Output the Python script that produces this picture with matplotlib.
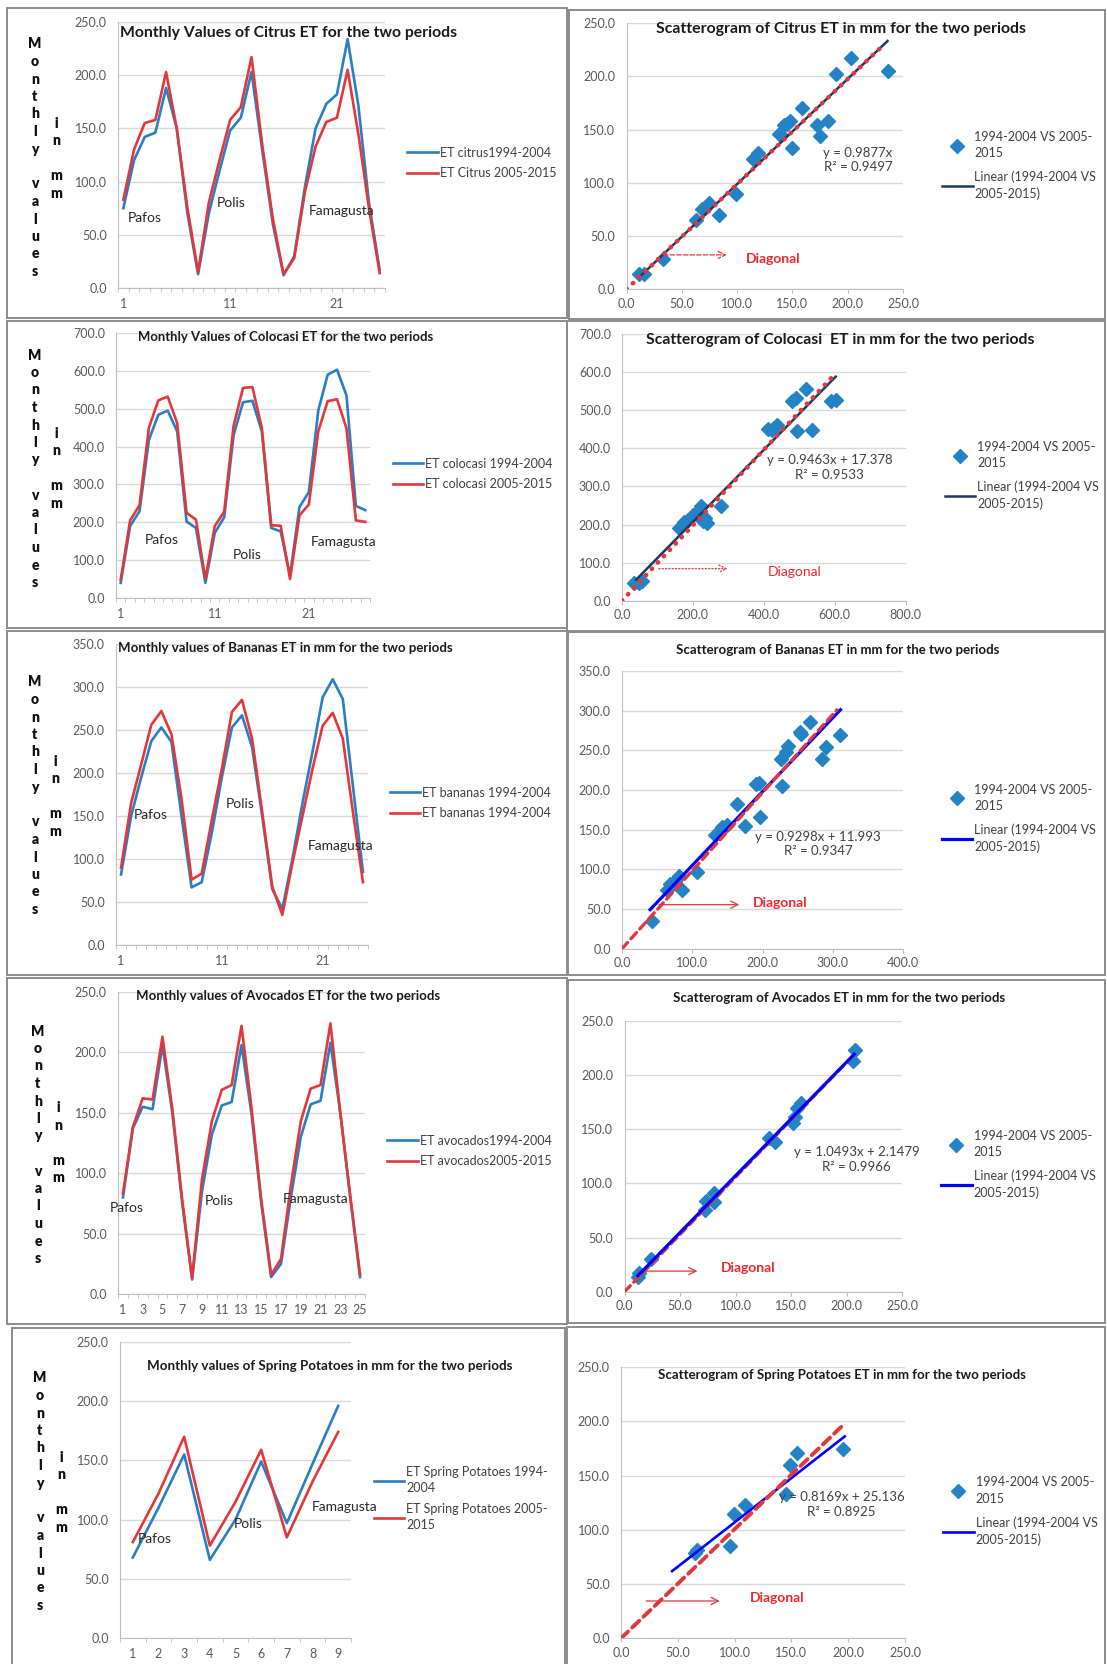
import numpy as np
import matplotlib.pyplot as plt
from matplotlib.patches import Rectangle

W, H = 1107, 1664
plt.rcParams['font.family'] = ['Lato', 'DejaVu Sans']

BLUE = '#2A7EC4'
RED = '#E2383C'
MARK = '#2483C5'
NAVY = '#1F3864'
PURE_BLUE = '#0000FF'
DIAG_RED = '#F0282D'
GRID = '#D9D9D9'
AXIS = '#BFBFBF'
TICK = '#595959'

#%% data
# citrus
citrus_94 = [75, 120, 142, 146, 188, 150, 70, 13, 70, 110, 148, 160, 203, 130, 60, 12,
             30, 95, 150, 173, 182, 234, 172, 80, 17]
citrus_05 = [83, 130, 155, 158, 203, 150, 75, 15, 80, 120, 158, 170, 217, 135, 65, 13,
             28, 90, 133, 156, 160, 205, 145, 75, 14]
citrus_sx = [11.6, 15.6, 32.8, 63, 68, 71, 75, 84, 99, 114, 119, 138, 140, 142, 145, 148,
             150, 159, 172, 175, 182, 189, 203, 236]
citrus_sy = [14.4, 14.4, 28.2, 65, 75, 76, 81, 70, 89, 122, 128, 146, 145, 154, 155, 158,
             133, 170, 154, 144, 158, 202, 217, 205]
citrus_fit = [0.9877, 0.0]
citrus_fit_x = [12, 236]
citrus_diag_x = [0, 233]
citrus_diag_y = [0, 230]

# colocasi
colo_94 = [40, 190, 229, 418, 484, 495, 440, 202, 185, 40, 172, 213, 430, 517, 521, 440, 185, 176,
           60, 240, 280, 495, 590, 603, 535, 243, 232]
colo_05 = [48, 205, 245, 450, 522, 532, 462, 225, 207, 50, 190, 228, 455, 555, 557, 450, 192, 191,
           50, 218, 247, 440, 520, 525, 448, 205, 201]
colo_sx = [34, 49, 56, 161, 176, 185, 200, 210, 222, 229, 234, 239, 278, 413, 422, 429, 436,
           481, 491, 493, 519, 535, 590, 603]
colo_sy = [46, 46, 51, 191, 206, 213, 226, 230, 248, 208, 217, 204, 248, 451, 449, 453, 460,
           525, 532, 446, 556, 449, 523, 528]
colo_fit = [0.9463, 17.378]
colo_fit_x = [40, 603]
colo_diag_x = [0, 592]
colo_diag_y = [0, 586]

# bananas
ban_94 = [82, 150, 195, 237, 253, 236, 150, 67, 73, 130, 195, 253, 267, 230, 150, 65, 42,
          100, 165, 225, 288, 309, 286, 185, 85]
ban_05 = [90, 165, 210, 256, 272, 245, 170, 76, 83, 145, 205, 271, 285, 240, 155, 68, 35,
          95, 150, 205, 255, 270, 240, 155, 73]
ban_sx = [42, 64, 69, 75, 81, 85, 107, 133, 143, 149, 163, 175, 191, 195, 197, 227, 228, 234,
          236, 253, 255, 267, 285, 290, 310]
ban_sy = [35, 74, 81, 85, 91, 74, 97, 143, 154, 156, 183, 155, 208, 209, 166, 239, 205, 248,
          255, 273, 271, 286, 239, 254, 269]
ban_fit = [0.9298, 11.993]
ban_fit_x = [40, 311]
ban_diag_x = [0, 306]
ban_diag_y = [0, 301]

# avocados
avo_94 = [80, 137, 155, 153, 206, 150, 75, 12, 85, 132, 156, 159, 206, 150, 75, 14,
          25, 80, 130, 157, 160, 208, 150, 80, 14]
avo_05 = [83, 138, 162, 161, 213, 153, 78, 13, 95, 143, 169, 173, 222, 155, 78, 16,
          29, 90, 143, 170, 173, 224, 150, 82, 16]
avo_sx = [11.8, 13.4, 23.7, 72.5, 73.5, 81, 81, 130, 135.7, 152, 153.5, 155.7, 159, 205.8, 207.3]
avo_sy = [13.9, 17, 30, 75.4, 83.7, 83, 91, 141.6, 138.5, 155.5, 161.6, 169.3, 174, 213, 223]
avo_fit = [1.0493, 2.1479]
avo_fit_x = [12, 207]
avo_diag_x = [0, 206]
avo_diag_y = [0, 218]

# spring potatoes
pot_94 = [68, 110, 155, 66, 100, 149, 97, 147, 196]
pot_05 = [81, 122, 170, 78, 115, 159, 85, 132, 174]
pot_sx = [65.5, 67, 96, 99.7, 109.5, 145.4, 149, 154.6, 195.7]
pot_sy = [78.2, 81.3, 85.3, 115, 122.7, 132.8, 160, 170.9, 174]
pot_fit = [0.8169, 25.136]
pot_fit_x = [45, 197]
pot_diag_x = [0, 197]
pot_diag_y = [0, 198]

towns = ['Pafos', 'Polis', 'Famagusta']

fig = plt.figure(figsize=(W / 100, H / 100), dpi=100)
renderer = fig.canvas.get_renderer()


def rect(l, t, r, b):
    return [l / W, 1 - b / H, (r - l) / W, (b - t) / H]


def frame(l, t, r, b):
    fig.patches.append(Rectangle((l / W, 1 - b / H), (r - l) / W, (b - t) / H,
                                 transform=fig.transFigure, fill=False, ec='#8C8C8C', lw=1.4))


def title(s, x, y, width):
    t = fig.text(x / W, 1 - y / H, s, ha='left', va='center', fontsize=10,
                 fontweight='bold', color='#1A1A1A')
    w = t.get_window_extent(renderer=renderer).width
    t.set_fontsize(10 * width / w)


def side_letters(x1, y1, x2, y2):
    for k, ch in enumerate('Monthly values'):
        fig.text(x1 / W, 1 - (y1 + k * 17.5) / H, ch, ha='center', va='center',
                 fontsize=10, fontweight='heavy', color='#111111')
    for k, ch in enumerate('in mm'):
        fig.text(x2 / W, 1 - (y2 + k * 17.5) / H, ch, ha='center', va='center',
                 fontsize=10, fontweight='heavy', color='#111111')


def base_axes(box, ymax, ystep):
    ax = fig.add_axes(rect(*box))
    ax.set_ylim(0, ymax)
    yt = np.arange(0, ymax + ystep / 2, ystep)
    ax.set_yticks(yt)
    ax.set_yticklabels(['%.1f' % v for v in yt])
    ax.yaxis.grid(True, color=GRID, lw=1)
    ax.set_axisbelow(True)
    for s in ['top', 'right']:
        ax.spines[s].set_visible(False)
    for s in ['left', 'bottom']:
        ax.spines[s].set_color(AXIS)
    ax.tick_params(axis='y', length=0, pad=8, labelsize=9, labelcolor=TICK)
    ax.tick_params(axis='x', labelsize=9, labelcolor=TICK, color=AXIS)
    return ax


def add_legend(ax, leg, spacing):
    lg = ax.legend(loc='center left', bbox_to_anchor=(leg[0] / W, 1 - leg[1] / H),
                   bbox_transform=fig.transFigure, frameon=False, fontsize=9, numpoints=1,
                   handlelength=2.45, handletextpad=0.15, borderpad=0, borderaxespad=0,
                   labelspacing=spacing, labelcolor='#404040')
    for t in lg.get_texts():
        t.set_linespacing(1.45)
    return lg


def line_panel(fbox, box, y94, y05, labels, ymax, ystep, xt, ttl, leg, town_xy, letters):
    frame(*fbox)
    ax = base_axes(box, ymax, ystep)
    n = len(y94)
    cats = np.arange(1, n + 1)
    ax.plot(cats, y94, color=BLUE, lw=1.9, label=labels[0])
    ax.plot(cats, y05, color=RED, lw=1.9, label=labels[1])
    ax.set_xlim(0.5, n + 0.5)
    ax.set_xticks(xt)
    ax.set_xticks(np.arange(0.5, n + 1), minor=True)
    ax.tick_params(axis='x', which='major', length=0, pad=7)
    ax.tick_params(axis='x', which='minor', length=3, direction='out', color=AXIS)
    for name, (tx, ty) in zip(towns, town_xy):
        ax.text(tx, ty, name, ha='left', va='center', fontsize=10, color='#262626', clip_on=False)
    add_legend(ax, leg, 0.7)
    title(*ttl)
    side_letters(*letters)


def scatter_panel(fbox, box, sx, sy, fit, fit_x, diag_x, diag_y, xmax, xstep, ymax, ystep,
                  ttl, leg, eq_xy, fit_style, diag_style, dlabel, arrow):
    frame(*fbox)
    ax = base_axes(box, ymax, ystep)
    ax.set_xlim(0, xmax)
    xt = np.arange(0, xmax + xstep / 2, xstep)
    ax.set_xticks(xt)
    ax.set_xticklabels(['%.1f' % v for v in xt])
    ax.tick_params(axis='x', length=3, direction='out', pad=3)
    ax.plot(sx, sy, 'D', color=MARK, ms=7, ls='none', label='1994-2004 VS 2005-\n2015', zorder=3)
    fx = np.array(fit_x)
    ax.plot(fx, fit[0] * fx + fit[1], color=fit_style[0], lw=fit_style[1],
            label='Linear (1994-2004 VS\n2005-2015)', zorder=4)
    ax.plot(diag_x, diag_y, color=RED, lw=diag_style[1], ls=diag_style[0],
            dash_capstyle='round', zorder=diag_style[2])
    if fit[1] > 0:
        eq = 'y = %.4fx + %s\nR\u00b2 = %s' % (fit[0], ('%.4f' % fit[1]).rstrip('0'), eq_xy[2])
    else:
        eq = 'y = %.4fx\nR\u00b2 = %s' % (fit[0], eq_xy[2])
    ax.text(eq_xy[0], eq_xy[1], eq, ha='center', va='center', multialignment='center',
            fontsize=9.5, color='#404040', linespacing=1.25)
    ax.annotate('', xy=(arrow[1], arrow[2]), xytext=(arrow[0], arrow[2]),
                arrowprops=dict(arrowstyle='->', color=RED, lw=0.9, ls=arrow[3],
                                mutation_scale=13, shrinkA=0, shrinkB=0))
    ax.text(dlabel[0], dlabel[1], 'Diagonal', ha='left', va='center', fontsize=10,
            fontweight=dlabel[2], color=DIAG_RED)
    add_legend(ax, leg, 0.9)
    title(*ttl)


#%% left column: monthly series
line_panel((7, 8, 567, 318), (118, 22, 385, 288), citrus_94, citrus_05,
           ['ET citrus1994-2004', 'ET Citrus 2005-2015'], 250, 50, [1, 11, 21],
           ('Monthly Values of Citrus ET for the two periods', 120, 33, 336), (407, 163),
           [(1.45, 66), (9.79, 80), (18.36, 72)], (35, 44, 56, 123))
line_panel((7, 321, 567, 628), (116, 333, 370, 598), colo_94, colo_05,
           ['ET colocasi 1994-2004', 'ET colocasi 2005-2015'], 700, 100, [1, 11, 21],
           ('Monthly Values of Colocasi ET for the two periods', 138, 337, 296), (392.6, 474),
           [(3.52, 154), (12.96, 112.7), (21.2, 147)], (35, 355, 56, 433))
line_panel((7, 631, 567, 975), (116, 644, 368, 945), ban_94, ban_05,
           ['ET bananas 1994-2004', 'ET bananas 1994-2004'], 350, 50, [1, 11, 21],
           ('Monthly values of Bananas ET in mm for the two periods', 118, 648, 337), (389.7, 803),
           [(2.23, 150.6), (11.4, 163.8), (19.56, 115)], (35, 682, 55, 761))
line_panel((7, 978, 567, 1324), (118, 992, 365, 1294), avo_94, avo_05,
           ['ET avocados1994-2004', 'ET avocados2005-2015'], 250, 50, list(range(1, 26, 2)),
           ('Monthly values of Avocados ET for the two periods', 136, 996, 304), (387, 1151),
           [(-0.35, 71), (9.24, 77.4), (17.2, 78.7)], (38, 1031, 58, 1108))
line_panel((12, 1328, 565, 1680), (120, 1342, 351, 1638), pot_94, pot_05,
           ['ET Spring Potatoes 1994-\n2004', 'ET Spring Potatoes 2005-\n2015'], 250, 50,
           list(range(1, 10)),
           ('Monthly values of Spring Potatoes in mm for the two periods', 147, 1366, 364),
           (373.7, 1498.5), [(1.21, 83.9), (4.94, 96.6), (7.98, 110.6)], (40, 1378, 61, 1457))

#%% right column: scatterograms
scatter_panel((569, 10, 1105, 319), (626.5, 23, 903, 289.3), citrus_sx, citrus_sy, citrus_fit,
              citrus_fit_x, citrus_diag_x, citrus_diag_y, 250, 50, 250, 50,
              ('Scatterogram of Citrus ET in mm for the two periods', 655.6, 29.3, 371),
              (942, 165.5), (209.4, 121.5, '0.9497'), (NAVY, 1.8), ((0, (0.1, 1.8)), 3.3, 5),
              (107.5, 28.2, 'bold'), (33.4, 90.6, 32.3, '--'))
scatter_panel((567, 321, 1105, 631), (622, 334, 905.5, 600.7), colo_sx, colo_sy, colo_fit,
              colo_fit_x, colo_diag_x, colo_diag_y, 800, 200, 700, 100,
              ('Scatterogram of Colocasi  ET in mm for the two periods', 646, 339.7, 388),
              (944.6, 475.7), (586, 349, '0.9533'), (NAVY, 1.8), ((0, (0.1, 1.8)), 3.3, 5),
              (410, 75, 'normal'), (104, 298, 84, ':'))
scatter_panel((568, 632, 1105, 975), (622, 671, 903, 948.7), ban_sx, ban_sy, ban_fit,
              ban_fit_x, ban_diag_x, ban_diag_y, 400, 100, 350, 50,
              ('Scatterogram of Bananas ET in mm for the two periods', 675.6, 649.7, 325),
              (941.8, 818.4), (279.5, 131.7, '0.9347'), (PURE_BLUE, 2.3), ((0, (2.5, 1.5)), 2.4, 5),
              (187, 57, 'bold'), (52.6, 167, 55.5, '-'))
scatter_panel((568, 980, 1105, 1323), (624.5, 1021, 902, 1291.7), avo_sx, avo_sy, avo_fit,
              avo_fit_x, avo_diag_x, avo_diag_y, 250, 50, 250, 50,
              ('Scatterogram of Avocados ET in mm for the two periods', 673, 998.3, 333),
              (941, 1164.5), (208.9, 121.9, '0.9966'), (PURE_BLUE, 2.3), ((0, (2.5, 1.5)), 2.4, 3.5),
              (86.5, 22, 'bold'), (11.8, 65.7, 19, '-'))
scatter_panel((567, 1327, 1105, 1680), (621, 1367, 905, 1638.3), pot_sx, pot_sy, pot_fit,
              pot_fit_x, pot_diag_x, pot_diag_y, 250, 50, 250, 50,
              ('Scatterogram of Spring Potatoes ET in mm for the two periods', 658.3, 1375, 369),
              (943, 1511), (194.2, 123.2, '0.8925'), (PURE_BLUE, 1.9), ((0, (2.5, 1.5)), 2.8, 5),
              (113.4, 37.4, 'bold'), (22, 86.9, 34.4, '-'))

fig.savefig('out.png', dpi=100)
